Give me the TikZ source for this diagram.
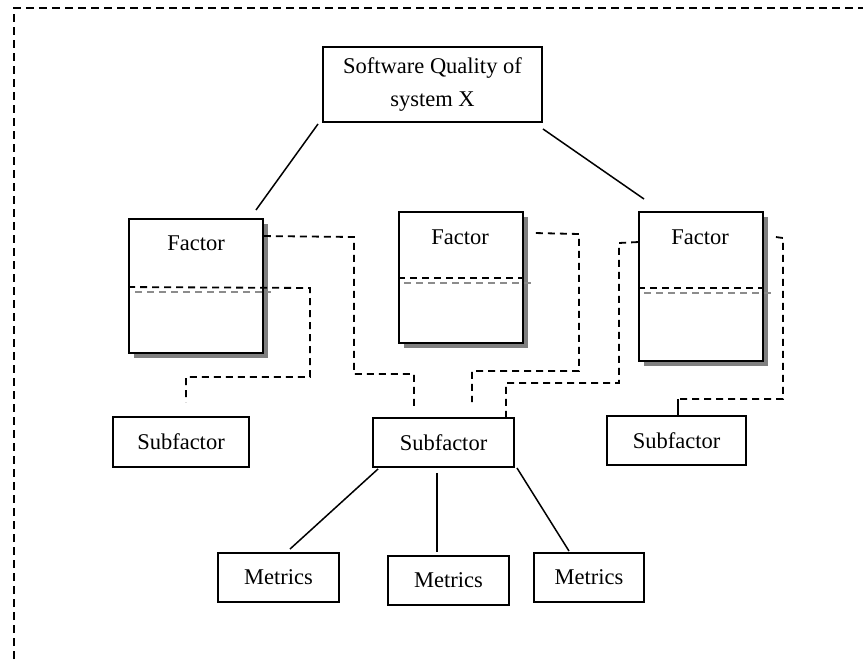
\documentclass[tikz,border=0pt]{standalone}
\usepackage{fontspec}
\setmainfont{Liberation Serif}
\usetikzlibrary{shadows,calc}
\begin{document}
\begin{tikzpicture}[x=1pt,y=-1pt,
  box/.style={draw,line width=1.9pt,fill=white,inner sep=0pt,font=\fontsize{22.5}{33}\selectfont},
  factorbox/.style={box,drop shadow={shadow xshift=5pt,shadow yshift=-5pt,fill=black!50,opacity=1}},
  link/.style={line width=1.5pt},
  dlink/.style={line width=1.8pt,dash pattern=on 7pt off 5pt},
  glink/.style={line width=1.8pt,dash pattern=on 7pt off 5pt,black!45},
  border/.style={line width=2pt,dash pattern=on 8pt off 5pt},
  lbl/.style={font=\fontsize{22.5}{33}\selectfont,inner sep=0pt}]

\useasboundingbox (0,0) rectangle (863,660);

% outer frame (left and top edges)
\draw[border] (14,672) -- (14,8) -- (875,8);

% root
\node[box,minimum width=219pt,minimum height=75pt,align=center] (top) at (432.5,84.5) {Software Quality of\\system X};

% factors
\node[factorbox,minimum width=134pt,minimum height=134pt] (f1) at (196,286) {};
\node[lbl] (f1t) at (196,243) {Factor};
\node[factorbox,minimum width=124pt,minimum height=131pt] (f2) at (461,277.5) {};
\node[lbl] (f2t) at (460,237) {Factor};
\node[factorbox,minimum width=124pt,minimum height=149pt] (f3) at (701,286.5) {};
\node[lbl] (f3t) at (700,237) {Factor};

% subfactors
\node[box,minimum width=136pt,minimum height=50pt] (s1) at (181,442) {Subfactor};
\node[box,minimum width=141pt,minimum height=49pt] (s2) at (443.5,442.5) {Subfactor};
\node[box,minimum width=139pt,minimum height=49pt] (s3) at (676.5,440.5) {Subfactor};

% metrics
\node[box,minimum width=121pt,minimum height=49pt] (m1) at (278.5,577.5) {Metrics};
\node[box,minimum width=121pt,minimum height=49pt] (m2) at (448.5,580.5) {Metrics};
\node[box,minimum width=110pt,minimum height=49pt] (m3) at (589,577.5) {Metrics};

% root to factors
\draw[link] ([shift={(-4,1)}]top.south west) -- ([shift={(-8,-8)}]f1.north east);
\draw[link] ([shift={(0,6)}]top.south east) -- ([shift={(6,-12)}]f3.north west);

% dividers inside the factor boxes
\draw[glink] ($(f1.north west)+(7,74)$) -- ($(f1.north east)+(7,74)$);
\draw[glink] ($(f2.north west)+(6,72)$) -- ($(f2.north east)+(7,72)$);
\draw[glink] ($(f3.north west)+(6,82)$) -- ($(f3.north east)+(7,82)$);
\draw[dlink] ($(f2.north west)+(0,67)$) -- ($(f2.north east)+(0,67)$);
\draw[dlink] ($(f3.north west)+(0,77)$) -- ($(f3.north east)+(0,77)$);

% factor to subfactor links
\draw[dlink] ($(f1.north west)+(0,69)$) -- (310,288) -- (310,377) -- (186,377) -- ($(s1.north)+(5,-14)$);
\draw[dlink] ($(f1.north east)+(0,18)$) -- (354,237) -- (354,374) -- (414,374) -- ($(s2.north)+(-29.5,-11)$);
\draw[dlink] ($(f2.north east)+(12,22)$) -- (579,234) -- (579,371) -- (472,371) -- ($(s2.north)+(28.5,-15)$);
\draw[dlink] ($(f3.north west)+(0,31)$) -- (619,243) -- (619,383) -- (506,383) -- ($(s2.north)+(62.5,0)$);
\draw[dlink] ($(f3.north east)+(12,26)$) -- (783,238) -- (783,399) -- (678,399);
\draw[link] (678,399) -- ($(s3.north)+(1.5,0)$);

% subfactor to metrics
\draw[link] ([shift={(6,1)}]s2.south west) -- ([shift={(11.5,-3)}]m1.north);
\draw[link] ([shift={(-6.5,5)}]s2.south) -- ([shift={(-11.5,-3)}]m2.north);
\draw[link] ([shift={(2,0)}]s2.south east) -- ([shift={(-20,-1)}]m3.north);
\end{tikzpicture}
\end{document}
